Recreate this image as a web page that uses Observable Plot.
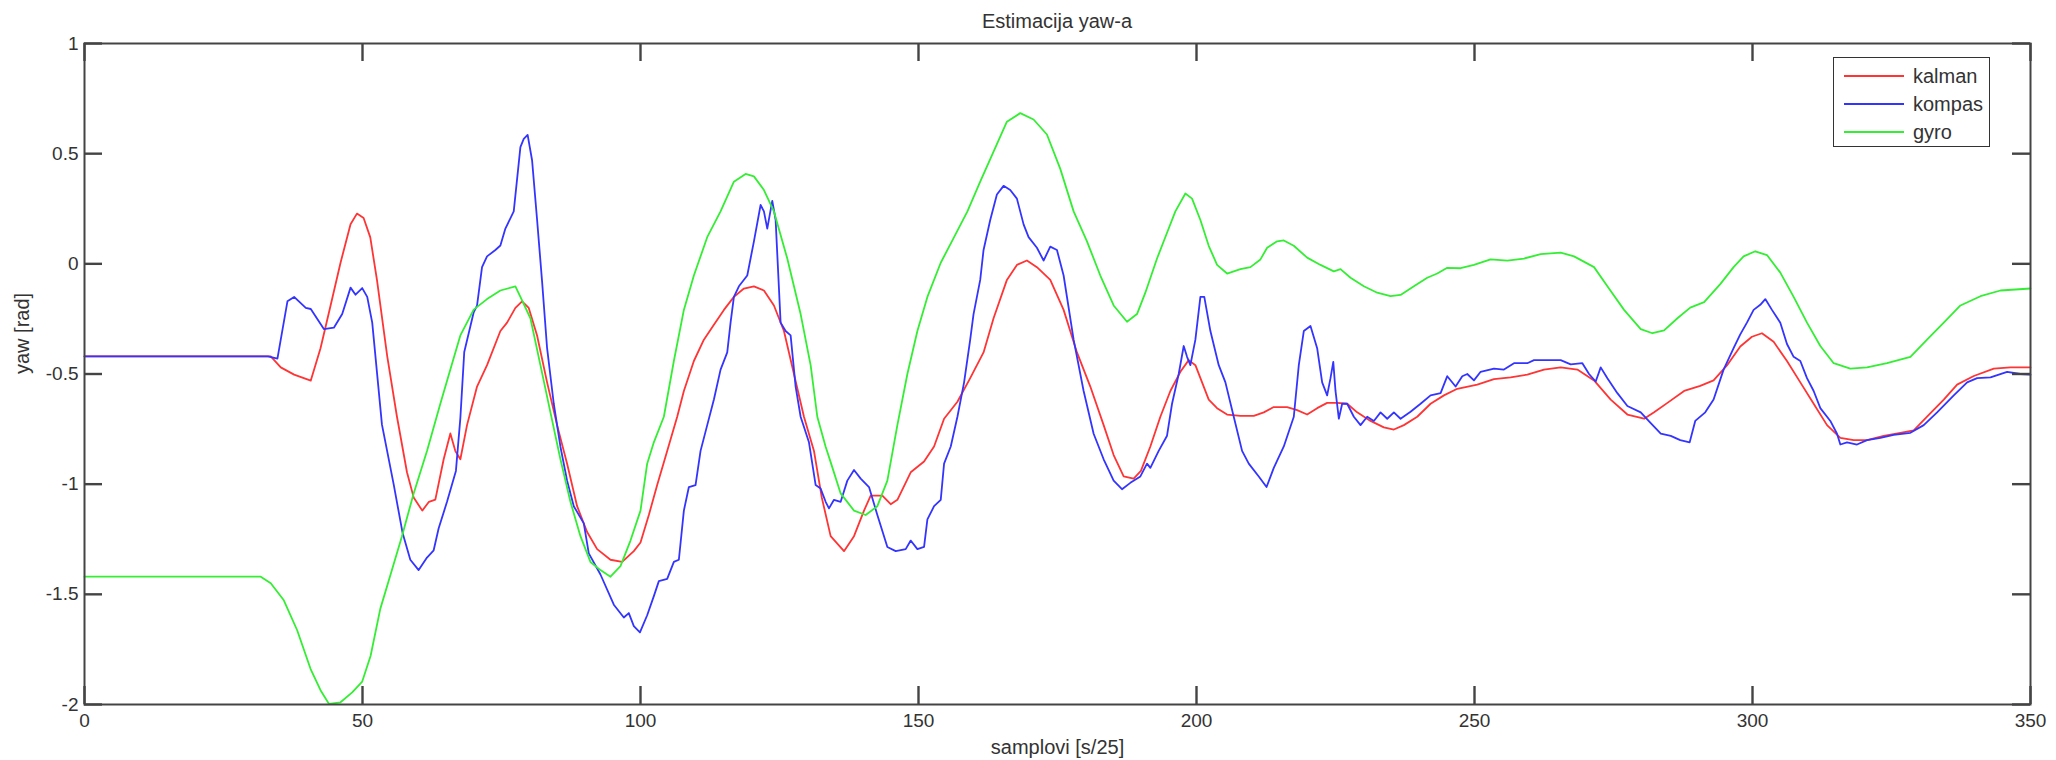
<!DOCTYPE html>
<html>
<head>
<meta charset="utf-8">
<script src="https://cdn.jsdelivr.net/npm/d3@7"></script>
<script src="https://cdn.jsdelivr.net/npm/@observablehq/plot@0.6"></script>
<style>
  html, body { margin: 0; padding: 0; background: #fff; }
  body { width: 2056px; height: 760px; position: relative; overflow: hidden;
         font-family: "Liberation Sans", Arial, Helvetica, sans-serif; color: #333; }
  #title { height: 30px; box-sizing: border-box; padding-left: 84px; padding-right: 26px;
           text-align: center; font-size: 20px; line-height: 30px; }
  #title span { position: relative; top: 6px; }
  #legend { position: absolute; left: 1833px; top: 57px; width: 155px; height: 88px;
            border: 1.5px solid #333; background: #fff; }
  .row { position: absolute; left: 10px; height: 24px; display: flex; align-items: center; font-size: 20px; }
  .swatch { display: inline-block; width: 60px; height: 2px; margin-right: 9px; }
</style>
</head>
<body>
<div id="title"><span>Estimacija yaw-a</span></div>
<div id="chart"></div>
<div id="legend"></div>
<script>
// ---- data ----
const seriesNames = ["kalman", "kompas", "gyro"];
const seriesColors = ["#ff3434", "#3434ff", "#34ee34"];

const xTicks = [0, 50, 100, 150, 200, 250, 300, 350];
const xTickLabels = ["0", "50", "100", "150", "200", "250", "300", "350"];
const yTicks = [-2, -1.5, -1, -0.5, 0, 0.5, 1];
const yTickLabels = ["-2", "-1.5", "-1", "-0.5", "0", "0.5", "1"];

const kalman = [
[0,-0.42],[33.5,-0.42],[35.3,-0.47],[37.7,-0.503],[40.7,-0.53],[42.45,-0.383],[44.25,-0.19],[46.05,0.005],
[47.85,0.18],[49.0,0.228],[50.2,0.208],[51.4,0.12],[52.6,-0.073],[54.45,-0.42],[56.2,-0.694],[58.0,-0.946],
[59.2,-1.06],[60.75,-1.12],[61.95,-1.08],[63.1,-1.07],[64.6,-0.887],[65.8,-0.77],[66.7,-0.85],[67.6,-0.887],
[68.8,-0.732],[70.6,-0.557],[72.4,-0.46],[74.8,-0.305],[76.0,-0.267],[77.5,-0.2],[78.7,-0.17],[79.9,-0.2],
[81.4,-0.325],[83.2,-0.538],[85.0,-0.732],[86.8,-0.907],[88.6,-1.1],[90.4,-1.217],[92.2,-1.295],[94.6,-1.343],
[96.7,-1.353],[98.8,-1.304],[100.0,-1.265],[101.5,-1.14],[103.0,-1.004],[104.8,-0.849],[106.6,-0.694],[107.8,-0.577],
[109.6,-0.441],[111.4,-0.344],[113.2,-0.276],[115.0,-0.209],[116.8,-0.15],[118.6,-0.112],[120.4,-0.102],[122.2,-0.121],
[124.0,-0.189],[125.8,-0.305],[127.6,-0.5],[129.4,-0.694],[131.2,-0.849],[132.6,-1.06],[134.2,-1.236],[136.6,-1.304],
[138.4,-1.236],[140.2,-1.12],[141.4,-1.052],[143.5,-1.052],[145.0,-1.091],[146.2,-1.071],[148.6,-0.946],[151.0,-0.897],
[152.8,-0.829],[154.6,-0.703],[157.0,-0.626],[159.3,-0.519],[161.7,-0.402],[163.5,-0.247],[165.9,-0.073],[167.7,-0.005],
[169.5,0.015],[171.3,-0.015],[173.7,-0.073],[176.1,-0.209],[178.5,-0.402],[180.9,-0.557],[183.3,-0.732],[185.1,-0.868],
[186.9,-0.965],[188.7,-0.975],[190.0,-0.94],[191.7,-0.829],[193.5,-0.694],[195.3,-0.577],[197.1,-0.49],[198.6,-0.437],
[199.8,-0.46],[201.0,-0.538],[202.2,-0.616],[203.7,-0.655],[205.5,-0.684],[207.9,-0.69],[210.3,-0.69],[212.1,-0.674],
[213.9,-0.65],[216.3,-0.65],[218.1,-0.664],[219.9,-0.684],[221.7,-0.655],[223.5,-0.631],[225.3,-0.631],[227.1,-0.635],
[228.9,-0.674],[231.3,-0.713],[233.7,-0.742],[235.5,-0.752],[237.3,-0.732],[239.7,-0.694],[242.1,-0.635],[244.5,-0.597],
[246.9,-0.567],[250.5,-0.548],[253.5,-0.523],[256.5,-0.515],[259.5,-0.503],[262.5,-0.48],[265.5,-0.47],[268.5,-0.48],
[271.5,-0.529],[274.5,-0.616],[277.5,-0.684],[280.5,-0.703],[282.3,-0.674],[284.7,-0.631],[287.7,-0.577],[290.6,-0.554],
[293.0,-0.529],[295.4,-0.461],[297.8,-0.375],[299.9,-0.331],[301.7,-0.315],[303.8,-0.354],[306.2,-0.441],[308.6,-0.538],
[311.0,-0.635],[313.4,-0.732],[315.8,-0.79],[318.2,-0.8],[320.6,-0.8],[323.6,-0.781],[326.6,-0.767],[329.0,-0.756],
[331.4,-0.694],[334.4,-0.616],[336.8,-0.548],[339.8,-0.509],[343.4,-0.476],[346.4,-0.47],[350,-0.47]
];

const kompas = [
[0,-0.42],[33,-0.42],[34.7,-0.43],[36.5,-0.17],[37.7,-0.15],[39.8,-0.2],[40.7,-0.205],[43.05,-0.296],
[44.85,-0.29],[46.35,-0.228],[47.85,-0.108],[48.75,-0.14],[49.95,-0.11],[50.85,-0.15],[51.75,-0.267],[53.5,-0.73],
[55.6,-1.0],[57.2,-1.22],[58.6,-1.343],[60.1,-1.39],[61.6,-1.333],[62.8,-1.3],[63.7,-1.2],[65.2,-1.08],
[66.8,-0.94],[67.6,-0.7],[68.3,-0.4],[70.0,-0.22],[70.6,-0.19],[71.5,-0.015],[72.4,0.034],[73.9,0.063],
[74.8,0.083],[75.7,0.16],[77.2,0.238],[78.4,0.53],[79.0,0.567],[79.7,0.585],[80.5,0.47],[81.4,0.2],
[82.3,-0.08],[83.2,-0.383],[84.4,-0.635],[85.6,-0.83],[86.8,-0.984],[88.0,-1.1],[89.8,-1.178],[90.7,-1.314],
[92.8,-1.41],[95.2,-1.547],[97.0,-1.605],[97.9,-1.585],[98.8,-1.644],[99.9,-1.673],[101.2,-1.595],[102.4,-1.508],
[103.3,-1.44],[104.8,-1.43],[106.0,-1.353],[106.9,-1.343],[107.8,-1.12],[108.7,-1.013],[109.9,-1.004],[110.8,-0.849],
[112.0,-0.732],[113.2,-0.616],[114.4,-0.48],[115.6,-0.402],[116.2,-0.267],[116.8,-0.15],[117.7,-0.102],[119.2,-0.053],
[120.4,0.102],[121.6,0.267],[122.2,0.238],[122.8,0.16],[123.7,0.286],[124.3,0.2],[125.2,-0.267],[126.1,-0.305],
[127.0,-0.325],[127.9,-0.557],[128.8,-0.694],[130.3,-0.81],[131.5,-1.004],[132.4,-1.02],[133.3,-1.08],[133.9,-1.11],
[134.8,-1.071],[136.0,-1.08],[137.2,-0.984],[138.4,-0.936],[139.6,-0.975],[141.1,-1.013],[142.6,-1.14],[144.4,-1.285],
[145.9,-1.304],[147.7,-1.295],[148.6,-1.256],[149.8,-1.295],[151.0,-1.285],[151.6,-1.16],[152.8,-1.1],[154.0,-1.071],
[154.6,-0.907],[155.8,-0.829],[157.0,-0.694],[158.2,-0.538],[159.3,-0.344],[159.9,-0.228],[161.1,-0.073],[161.7,0.063],
[162.9,0.199],[164.1,0.315],[165.3,0.354],[166.5,0.335],[167.7,0.296],[168.9,0.179],[169.8,0.121],[171.3,0.073],
[172.5,0.015],[173.7,0.078],[174.9,0.063],[176.1,-0.053],[177.9,-0.344],[179.7,-0.577],[181.5,-0.771],[183.3,-0.887],
[185.1,-0.984],[186.6,-1.023],[188.1,-0.994],[189.9,-0.965],[191.1,-0.907],[191.7,-0.926],[193.2,-0.849],[194.7,-0.78],
[195.6,-0.635],[196.8,-0.5],[197.7,-0.373],[198.3,-0.422],[198.9,-0.46],[199.8,-0.344],[200.7,-0.15],[201.4,-0.15],
[202.5,-0.305],[204.0,-0.46],[205.2,-0.538],[206.7,-0.694],[208.2,-0.849],[209.4,-0.907],[211.2,-0.965],[212.6,-1.013],
[213.9,-0.926],[215.7,-0.829],[217.5,-0.694],[218.4,-0.46],[219.3,-0.305],[220.5,-0.282],[221.7,-0.383],[222.6,-0.538],
[223.5,-0.597],[224.1,-0.519],[224.6,-0.445],[225.0,-0.577],[225.6,-0.703],[226.2,-0.635],[227.1,-0.635],[228.3,-0.694],
[229.5,-0.732],[230.7,-0.694],[231.9,-0.713],[233.1,-0.674],[234.3,-0.703],[235.5,-0.674],[236.7,-0.703],[238.5,-0.671],
[240.3,-0.635],[242.1,-0.597],[243.9,-0.587],[245.1,-0.51],[246.6,-0.557],[247.8,-0.51],[248.7,-0.5],[249.9,-0.529],
[251.1,-0.49],[253.5,-0.476],[255.3,-0.48],[257.1,-0.451],[259.5,-0.451],[260.7,-0.437],[263.1,-0.437],[265.5,-0.437],
[267.3,-0.456],[269.4,-0.451],[270.6,-0.5],[271.8,-0.534],[272.7,-0.47],[273.9,-0.519],[275.7,-0.587],[277.5,-0.645],
[279.9,-0.674],[281.7,-0.723],[283.5,-0.771],[285.3,-0.781],[287.0,-0.8],[288.7,-0.81],[289.7,-0.713],[291.5,-0.674],
[293.0,-0.616],[294.8,-0.48],[296.6,-0.383],[297.8,-0.32],[299.0,-0.267],[300.2,-0.209],[301.4,-0.186],[302.3,-0.16],
[303.5,-0.209],[305.0,-0.267],[306.2,-0.364],[307.4,-0.422],[308.6,-0.441],[309.8,-0.519],[311.0,-0.577],[312.2,-0.655],
[314.0,-0.713],[315.2,-0.771],[315.8,-0.82],[317.0,-0.81],[318.8,-0.82],[320.6,-0.8],[323.0,-0.79],[325.4,-0.776],
[328.4,-0.767],[330.8,-0.732],[333.2,-0.674],[336.2,-0.597],[338.6,-0.538],[340.4,-0.519],[342.8,-0.515],[345.8,-0.49],
[348.2,-0.5],[350,-0.503]
];

const gyro = [
[0,-1.42],[31.7,-1.42],[33.5,-1.45],[35.85,-1.527],[38.25,-1.663],[40.65,-1.838],[42.45,-1.935],[43.95,-1.997],
[46.05,-1.99],[48.15,-1.945],[49.95,-1.896],[51.45,-1.78],[53.2,-1.566],[55.05,-1.41],[57.1,-1.236],[59.2,-1.042],
[61.6,-0.849],[64.0,-0.635],[65.8,-0.48],[67.6,-0.325],[70.0,-0.208],[72.4,-0.16],[74.8,-0.121],[77.5,-0.102],
[78.4,-0.15],[80.2,-0.247],[82.0,-0.46],[83.8,-0.674],[85.6,-0.887],[87.4,-1.08],[89.2,-1.236],[91.0,-1.353],
[92.8,-1.39],[94.6,-1.42],[96.4,-1.372],[98.2,-1.256],[100.0,-1.12],[101.2,-0.907],[102.4,-0.81],[104.2,-0.694],
[106.0,-0.441],[107.8,-0.209],[109.6,-0.053],[112.0,0.121],[114.4,0.238],[116.8,0.373],[118.9,0.408],[120.4,0.397],
[122.2,0.335],[124.0,0.238],[126.4,0.024],[128.8,-0.228],[130.6,-0.46],[131.8,-0.694],[133.3,-0.83],[134.2,-0.9],
[136.0,-1.042],[138.4,-1.12],[140.5,-1.14],[142.6,-1.1],[144.4,-0.984],[146.2,-0.732],[148.0,-0.5],[149.8,-0.305],
[151.6,-0.15],[154.0,0.005],[156.4,0.121],[158.8,0.238],[161.1,0.373],[163.5,0.509],[165.9,0.645],[168.3,0.684],
[170.7,0.655],[173.1,0.587],[175.5,0.431],[177.9,0.238],[180.3,0.102],[182.7,-0.053],[185.1,-0.189],[187.5,-0.263],
[189.3,-0.228],[190.8,-0.131],[192.9,0.024],[194.7,0.141],[196.2,0.238],[198.0,0.319],[199.2,0.296],[200.7,0.199],
[202.2,0.082],[203.7,-0.005],[205.5,-0.044],[207.9,-0.024],[209.7,-0.015],[211.5,0.02],[212.7,0.073],[214.5,0.102],
[215.7,0.106],[217.5,0.082],[219.9,0.028],[222.3,-0.005],[224.7,-0.034],[225.9,-0.024],[227.7,-0.063],[230.1,-0.102],
[232.5,-0.131],[234.9,-0.147],[236.7,-0.141],[239.1,-0.102],[241.5,-0.063],[243.3,-0.044],[245.1,-0.018],[247.5,-0.02],
[249.9,-0.005],[252.9,0.02],[255.9,0.015],[258.9,0.024],[261.9,0.044],[265.5,0.051],[267.9,0.034],[271.5,-0.015],
[273.9,-0.102],[276.9,-0.209],[279.9,-0.296],[282.0,-0.315],[284.1,-0.302],[286.5,-0.247],[288.8,-0.199],[291.3,-0.174],
[294.2,-0.092],[296.6,-0.015],[298.4,0.034],[300.5,0.057],[302.6,0.04],[305.0,-0.04],[307.4,-0.15],[309.8,-0.267],
[312.2,-0.373],[314.6,-0.451],[317.6,-0.476],[320.6,-0.47],[324.2,-0.451],[328.4,-0.422],[331.4,-0.344],[334.4,-0.267],
[337.4,-0.189],[341.0,-0.147],[344.6,-0.121],[350,-0.112]
];

const seriesData = [kalman, kompas, gyro];

// ---- layout ----
const W = 2056, H = 730;
const mTop = 13, mBottom = 56, mLeft = 84, mRight = 26;
const frameW = W - mLeft - mRight, frameH = H - mTop - mBottom;
const tickLen = 18;
const axisColor = "#444";
const tickStyle = {stroke: axisColor, strokeWidth: 2.4};

const lineMarks = seriesData.map((s, i) =>
  Plot.line(s, {x: d => d[0], y: d => d[1], stroke: seriesColors[i], strokeWidth: 1.8})
);

const chart = Plot.plot({
  width: W, height: H,
  marginTop: mTop, marginBottom: mBottom, marginLeft: mLeft, marginRight: mRight,
  style: {fontFamily: '"Liberation Sans", Arial, Helvetica, sans-serif', fontSize: "19px", color: "#333", background: "#fff", overflow: "visible"},
  x: {domain: [0, 350], axis: null},
  y: {domain: [-2, 1], axis: null},
  marks: [
    ...lineMarks,
    Plot.frame({stroke: axisColor, strokeWidth: 2}),
    // inward ticks on all four sides (MATLAB box style)
    Plot.tickX(xTicks, {x: d => d, insetTop: frameH - tickLen, ...tickStyle}),
    Plot.tickX(xTicks, {x: d => d, insetBottom: frameH - tickLen, ...tickStyle}),
    Plot.tickY(yTicks, {y: d => d, insetRight: frameW - tickLen, ...tickStyle}),
    Plot.tickY(yTicks, {y: d => d, insetLeft: frameW - tickLen, ...tickStyle}),
    Plot.axisX(xTicks, {tickSize: 0, tickPadding: 9, label: null, fontSize: 19,
      tickFormat: d => xTickLabels[xTicks.indexOf(d)]}),
    Plot.axisY(yTicks, {tickSize: 0, tickPadding: 6, label: null, fontSize: 19,
      tickFormat: d => yTickLabels[yTicks.indexOf(d)]}),
    Plot.text(["samplovi [s/25]"], {text: d => d, frameAnchor: "bottom", dy: 49, fontSize: 20, fill: "#333"}),
    Plot.text(["yaw [rad]"], {text: d => d, frameAnchor: "left", dx: -62, rotate: -90, fontSize: 20, fill: "#333"})
  ]
});
document.getElementById("chart").appendChild(chart);

// ---- legend (inside the axes box, top right) ----
const legend = document.getElementById("legend");
seriesNames.forEach((name, i) => {
  const row = document.createElement("div");
  row.className = "row";
  row.style.top = (6 + i * 28) + "px";
  const sw = document.createElement("span");
  sw.className = "swatch";
  sw.style.background = seriesColors[i];
  const label = document.createElement("span");
  label.textContent = name;
  row.appendChild(sw);
  row.appendChild(label);
  legend.appendChild(row);
});
</script>
</body>
</html>
